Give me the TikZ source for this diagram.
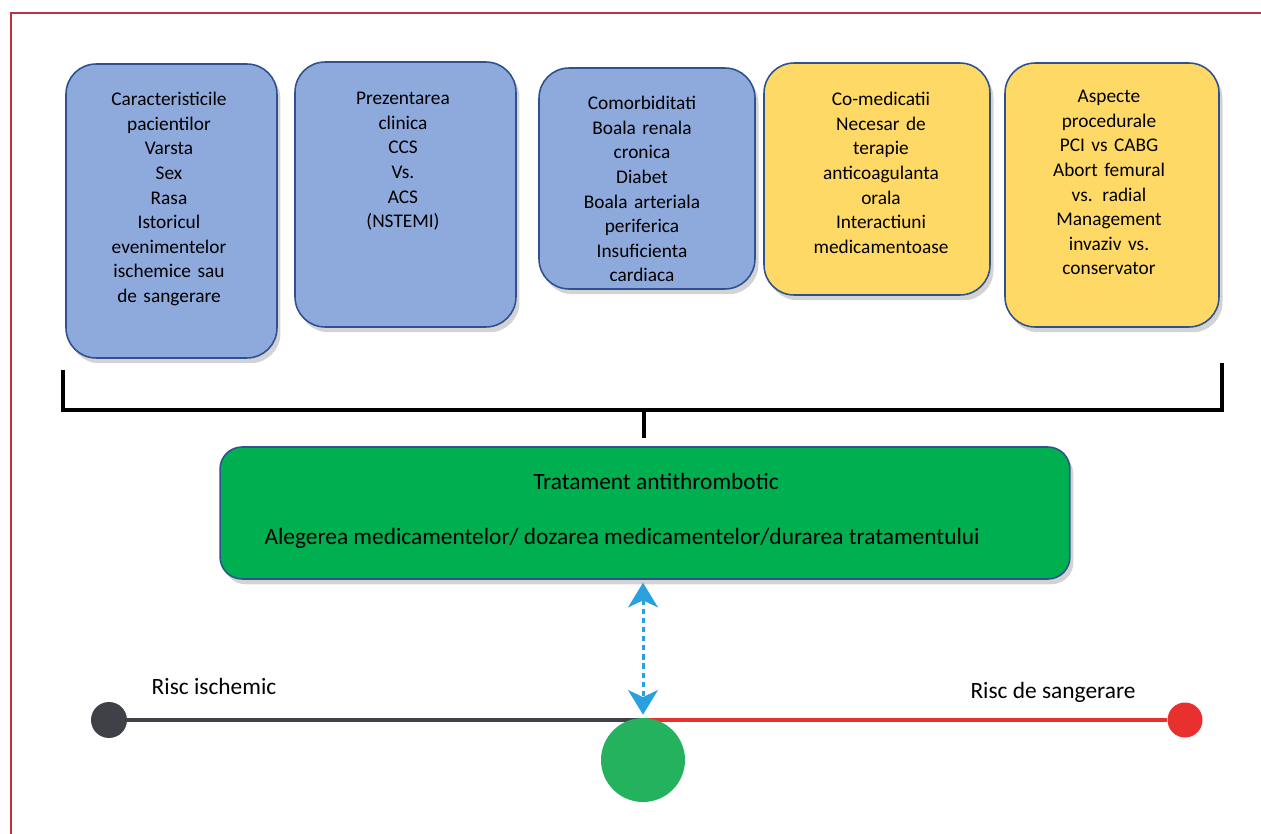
\documentclass[tikz,border=0pt]{standalone}
\usepackage{fontspec}
\setmainfont{Carlito}
\usetikzlibrary{shadows,arrows.meta,backgrounds}

\definecolor{bordo}{RGB}{190,50,60}
\definecolor{celeste}{RGB}{142,169,219}
\definecolor{giallo}{RGB}{255,217,102}
\definecolor{blu}{RGB}{47,82,143}
\definecolor{verde}{RGB}{0,176,80}
\definecolor{verdino}{RGB}{36,178,95}
\definecolor{azzurro}{RGB}{41,161,222}
\definecolor{grigio}{RGB}{64,64,72}
\definecolor{rosso}{RGB}{232,48,46}

\begin{document}
\begin{tikzpicture}[x=0.02cm, y=-0.02cm,
	>={Stealth[length=14pt,width=17pt,inset=4pt]},
	box/.style={draw=blu, line width=0.9pt, rounded corners=0.6cm,
		drop shadow={shadow xshift=2pt, shadow yshift=-3pt, opacity=0.35}},
	blubox/.style={box, fill=celeste},
	giallobox/.style={box, fill=giallo},
	testo/.style={anchor=north, inner sep=0pt, align=center, font=\fontsize{11}{14}\selectfont},
	etichetta/.style={inner sep=0pt, font=\fontsize{13.3}{16}\selectfont}]
			\useasboundingbox (0,0) rectangle (1261,834);
			%%%	Cornice
			\draw [bordo, line width=1.7pt] (11,13) rectangle (1300,860);
			%%%	Riquadri
			\node [blubox, minimum width=4.22cm, minimum height=5.88cm] (pazienti) at (171.5,211) {};
			\node [testo, text width=4cm] (pazientitxt) at (169,92) {Caracteristicile\\pacientilor\\Varsta\\Sex\\Rasa\\Istoricul\\evenimentelor\\ischemice sau\\de sangerare};
			\node [blubox, minimum width=4.42cm, minimum height=5.3cm] (clinica) at (405.5,194.5) {};
			\node [testo, text width=4cm] (clinicatxt) at (403,92) {Prezentarea\\clinica\\CCS\\Vs.\\ACS\\(NSTEMI)};
			\node [blubox, minimum width=4.32cm, minimum height=4.42cm] (comorb) at (647,178.5) {};
			\node [testo, text width=4cm] (comorbtxt) at (642,96) {Comorbiditati\\Boala renala\\cronica\\Diabet\\Boala arteriala\\periferica\\Insuficienta\\cardiaca};
			\node [giallobox, minimum width=4.52cm, minimum height=4.64cm] (farmaci) at (877,179) {};
			\node [testo, text width=4cm] (farmacitxt) at (881,92) {Co-medicatii\\Necesar de\\terapie\\anticoagulanta\\orala\\Interactiuni\\medicamentoase};
			\node [giallobox, minimum width=4.28cm, minimum height=5.28cm] (procedura) at (1112,195) {};
			\node [testo, text width=4cm] (proceduratxt) at (1109,90) {Aspecte\\procedurale\\PCI vs CABG\\Abort femural\\vs. radial\\Management\\invaziv vs.\\conservator};
			
			%%%	Parentesi
			\coordinate (psx) at (63,370);
			\coordinate (pdx) at (1222,363);
			\coordinate (perno) at (644,410);
			\draw [line width=2.3pt] (psx) |- (pdx |- perno) -- (pdx);
			\draw [line width=2.3pt] (perno) -- ++(0,28);
			
			%%%	Trattamento
			\node [box, fill=verde, rounded corners=0.44cm, minimum width=17cm, minimum height=2.64cm] (tratt) at (645,513) {};
			\node [etichetta] (tratt1) at (656,481) {Tratament antithrombotic};
			\node [etichetta] (tratt2) at (622,538) {Alegerea medicamentelor/ dozarea medicamentelor/durarea tratamentului};
			
			%%%	Bilancia
			\node [circle, fill=grigio, minimum size=0.72cm, inner sep=0pt] (ische) at (109,720) {};
			\node [circle, fill=rosso, minimum size=0.7cm, inner sep=0pt] (sang) at (1185,720) {};
			\node [circle, fill=verdino, minimum size=1.68cm, inner sep=0pt] (equil) at (643,760) {};
			\begin{scope}[on background layer]
			\draw [grigio, line width=2.8pt] (ische) -- (ische -| equil);
			\draw [rosso, line width=2.8pt] (ische -| equil) -- (sang);
			\end{scope}
			\node [etichetta] (rischio1) at (214,686) {Risc ischemic};
			\node [etichetta] (rischio2) at (1053,692) {Risc de sangerare};
			
			\draw [<->, azzurro, line width=1.7pt, dash pattern=on 3pt off 2.2pt,
			shorten <=1.7pt, shorten >=1.7pt] (tratt.south -| equil.north) -- (equil.north);
		\end{tikzpicture}
\end{document}
